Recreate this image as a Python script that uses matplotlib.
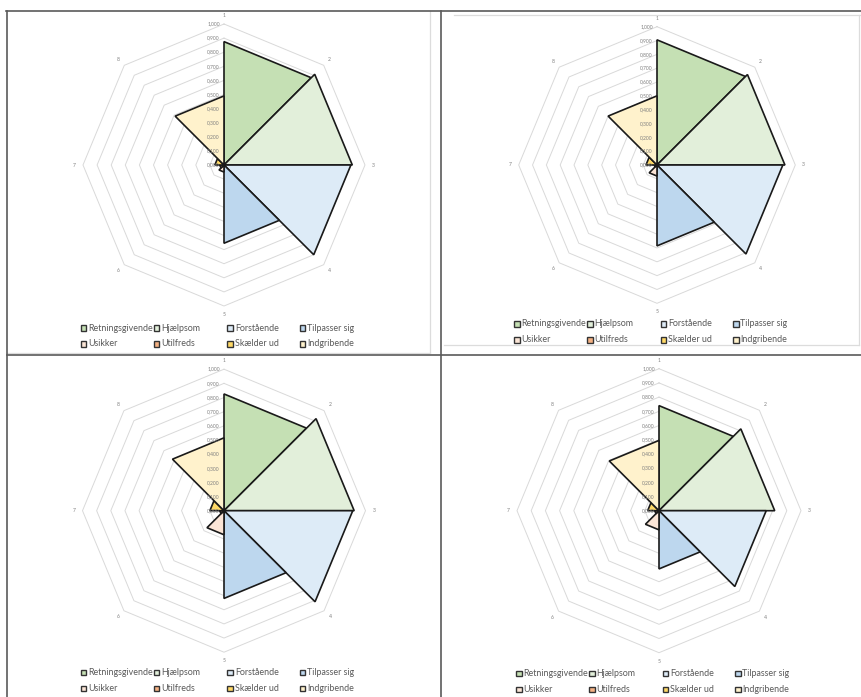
import numpy as np
import matplotlib
matplotlib.use("Agg")
import matplotlib.pyplot as plt
from matplotlib.patches import Polygon, Rectangle
from matplotlib.lines import Line2D

plt.rcParams["font.family"] = ["Lato", "DejaVu Sans"]

# categories, one per octant (axis k -> axis k+1)
names = ["Retningsgivende", "Hjælpsom", "Forstående", "Tilpasser sig",
         "Usikker", "Utilfreds", "Skælder ud", "Indgribende"]
fills = ["#c5e0b4", "#e2efda", "#ddebf7", "#bdd7ee",
         "#fbe5d6", "#f4b183", "#ffd966", "#fff2cc"]
axis_labels = ["1", "2", "3", "4", "5", "6", "7", "8"]
levels = [0.0, 0.1, 0.2, 0.3, 0.4, 0.5, 0.6, 0.7, 0.8, 0.9, 1.0]

# scores for the four charts
scores_a = [0.875, 0.91, 0.90, 0.555, 0.05, 0.03, 0.065, 0.49]
scores_b = [0.905, 0.925, 0.91, 0.585, 0.08, 0.02, 0.08, 0.50]
scores_c = [0.825, 0.92, 0.91, 0.62, 0.17, 0.03, 0.10, 0.515]
scores_d = [0.74, 0.815, 0.755, 0.41, 0.135, 0.03, 0.08, 0.495]

W, H = 862, 697
fig = plt.figure(figsize=(W / 100, H / 100), dpi=100)


def fx(x):
    return x / W


def fy(y):
    return 1 - y / H


# angle of each spoke, clockwise from the top
ang = np.deg2rad(90 - 45 * np.arange(8))


def radar(cell, cx, cy, R, scores, leg_dy):
    x0, y0, x1, y1 = cell
    ax = fig.add_axes([fx(x0), fy(y1), (x1 - x0) / W, (y1 - y0) / H])
    ax.set_xlim((x0 - cx) / R, (x1 - cx) / R)
    ax.set_ylim((cy - y1) / R, (cy - y0) / R)
    ax.axis("off")

    # octagon gridlines
    for lv in levels[1:]:
        xs = np.append(lv * np.cos(ang), lv * np.cos(ang[0]))
        ys = np.append(lv * np.sin(ang), lv * np.sin(ang[0]))
        ax.plot(xs, ys, color="#d9d9d9", lw=0.7, zorder=1)
    for lv in levels:
        ax.text(-4 / R, lv, f"{lv:.3f}".replace(".", ","), ha="right",
                va="center", fontsize=3.6, color="#7f7f7f", zorder=30)
    for k, lab in enumerate(axis_labels):
        ax.text(1.06 * np.cos(ang[k]), 1.06 * np.sin(ang[k]), lab,
                ha="center", va="center", fontsize=3.6, color="#7f7f7f")

    # one filled triangle per category
    for k, v in enumerate(scores):
        k2 = (k + 1) % 8
        pts = [(0, 0), (v * np.cos(ang[k]), v * np.sin(ang[k])),
               (v * np.cos(ang[k2]), v * np.sin(ang[k2]))]
        ax.add_patch(Polygon(pts, closed=True, facecolor=fills[k],
                             edgecolor="#1a1a1a", lw=1.2, zorder=3 + k,
                             joinstyle="miter"))

    # legend, 4 columns x 2 rows
    col_dx = [-143, -70, 3.5, 76]
    box = 5.5
    for i, name in enumerate(names):
        r, c = divmod(i, 4)
        bx = col_dx[c] / R
        by = -(leg_dy + 16 * r) / R
        ax.add_patch(Rectangle((bx, by - box / 2 / R), box / R, box / R,
                               facecolor=fills[i], edgecolor="#333333",
                               lw=1.0, clip_on=False, zorder=20))
        ax.text(bx + (box + 2) / R, by, name, ha="left", va="center",
                fontsize=6.4, color="#595959", clip_on=False)
    return ax


# chart area outlines
outline = [((430, 430), (11, 353)), ((7, 430), (353, 353)),
           ((454, 862), (14.7, 14.7)), ((859, 859), (14.7, 345)),
           ((444, 859), (345, 345))]
for xs, ys in outline:
    fig.add_artist(Line2D([fx(x) for x in xs], [fy(y) for y in ys],
                          transform=fig.transFigure, color="#dcdcdc", lw=0.9))

radar((8, 12, 440, 354), 224, 165, 141, scores_a, 163)
radar((442, 12, 862, 354), 657, 165, 138.3, scores_b, 159)
radar((8, 356, 440, 697), 224, 510.7, 141.5, scores_c, 162)
radar((442, 356, 862, 697), 659, 510.7, 142, scores_d, 163)

# table rules around the charts
rules = [((6, 862), (11, 11)), ((7, 7), (11, 697)),
         ((441, 441), (11, 697)), ((7, 862), (355, 355))]
for xs, ys in rules:
    fig.add_artist(Line2D([fx(x) for x in xs], [fy(y) for y in ys],
                          transform=fig.transFigure, color="#5a5a5a", lw=1.2))

fig.savefig("out.png", dpi=100)
